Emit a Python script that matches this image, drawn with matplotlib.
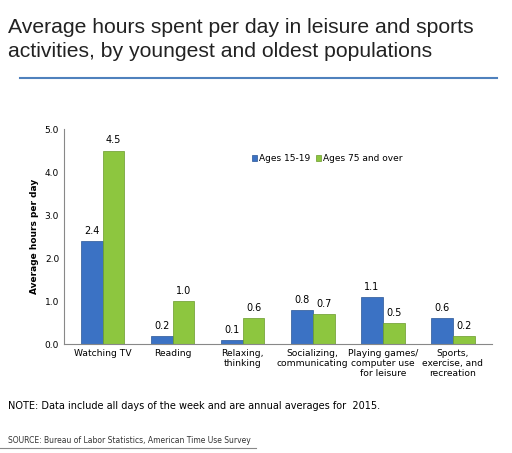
import matplotlib.pyplot as plt
import numpy as np

categories = ["Watching TV", "Reading", "Relaxing,\nthinking", "Socializing,\ncommunicating",
              "Playing games/\ncomputer use\nfor leisure", "Sports,\nexercise, and\nrecreation"]
young = [2.4, 0.2, 0.1, 0.8, 1.1, 0.6]
old = [4.5, 1.0, 0.6, 0.7, 0.5, 0.2]
yticks = [0.0, 1.0, 2.0, 3.0, 4.0, 5.0]

fig = plt.figure(figsize=(5.12, 4.53), dpi=100)
fig.text(0.015, 0.96, "Average hours spent per day in leisure and sports\nactivities, by youngest and oldest populations",
         fontsize=15.2, va="top", ha="left", color="#222222", linespacing=1.3, family="Liberation Sans")
fig.add_artist(plt.Line2D([0.04, 0.97], [0.828, 0.828], color="#4f81bd", lw=1.5))

ax = fig.add_axes([0.125, 0.24, 0.835, 0.475])
x = np.arange(len(categories))
w = 0.31
b1 = ax.bar(x - w/2, young, w, color="#3b72c4", edgecolor="#2a5596", lw=0.5, label="Ages 15-19")
b2 = ax.bar(x + w/2, old, w, color="#8dc63f", edgecolor="#6a9a2a", lw=0.5, label="Ages 75 and over")
for bars, vals in ((b1, young), (b2, old)):
    for r, v in zip(bars, vals):
        ax.text(r.get_x() + r.get_width()/2, v + 0.12, f"{v:.1f}", ha="center", va="bottom", fontsize=7)
ax.set_ylim(0, 5.0)
ax.set_xlim(-0.55, 5.55)
ax.set_yticks(yticks)
ax.set_yticklabels([f"{t:.1f}" for t in yticks], fontsize=6.5)
ax.set_xticks(x)
ax.set_xticklabels(categories, fontsize=6.6, linespacing=1.1)
ax.tick_params(length=0)
for s in ["top", "right"]:
    ax.spines[s].set_visible(False)
ax.spines["left"].set_color("#888888")
ax.spines["bottom"].set_color("#888888")
ax.set_ylabel("Average hours per day", fontsize=6.5, fontweight="bold")
ax.legend(loc="upper left", bbox_to_anchor=(0.42, 0.92), ncol=2, frameon=False, fontsize=6.5,
          handlelength=0.6, handleheight=0.6, columnspacing=0.6, handletextpad=0.2)

fig.text(0.015, 0.098, "NOTE: Data include all days of the week and are annual averages for  2015.", fontsize=7)
fig.text(0.015, 0.022, "SOURCE: Bureau of Labor Statistics, American Time Use Survey", fontsize=5.5, color="#333333")
fig.add_artist(plt.Line2D([0.0, 0.5], [0.012, 0.012], color="#888888", lw=0.8))
fig.savefig("out.png", dpi=100)
